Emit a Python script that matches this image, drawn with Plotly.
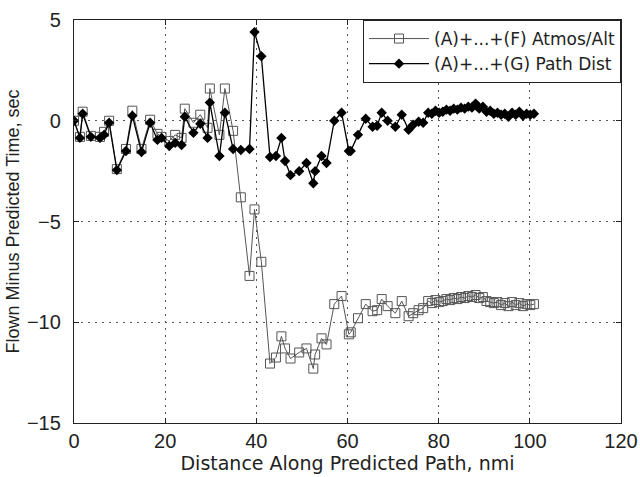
import plotly.graph_objects as go

# distance along predicted path, nmi
distance = [
    0.0, 1.3, 1.9, 3.7, 5.7, 6.6, 7.7, 9.4, 11.4, 12.8,
    14.8, 16.7, 18.3, 19.2, 20.9, 22.2, 23.6, 24.3, 26.2, 27.7,
    29.3, 29.8, 31.9, 33.1, 34.9, 36.6, 38.5, 39.6, 41.1, 43.0,
    44.3, 45.5, 46.3, 47.5, 49.4, 51.0, 52.5, 52.9, 54.3, 55.4,
    57.1, 58.7, 60.3, 60.7, 62.3, 64.0, 65.5, 66.5, 67.5, 68.8,
    70.5, 71.9, 73.4, 74.4, 75.6, 76.6, 77.7, 78.5, 79.3, 80.1,
    80.9, 81.7, 82.5, 83.3, 84.1, 84.9, 85.7, 86.5, 87.3, 88.1,
    88.9, 89.7, 90.5, 91.3, 92.1, 92.9, 93.7, 94.5, 95.3, 96.1,
    96.9, 97.7, 98.5, 99.3, 100.1, 100.9,
]

# (A)+...+(F) Atmos/Alt
atmos_alt = [
    0.0, -0.8, 0.45, -0.75, -0.8, -0.55, 0.0, -2.4, -1.4, 0.5,
    -1.4, 0.05, -0.65, -0.8, -1.0, -0.7, -0.85, 0.6, -0.1, 0.3,
    -0.35, 1.6, -0.7, 1.6, -0.5, -3.8, -7.7, -4.4, -7.0, -12.05,
    -11.75, -10.7, -11.3, -11.8, -11.5, -11.3, -12.3, -11.6, -10.8, -11.1,
    -9.1, -8.7, -10.6, -10.5, -9.8, -9.1, -9.45, -9.4, -8.85, -9.2,
    -9.55, -8.95, -9.7, -9.55, -9.4, -9.3, -8.95, -9.05, -8.9, -9.0,
    -8.95, -8.85, -8.9, -8.8, -8.85, -8.75, -8.8, -8.7, -8.75, -8.65,
    -8.8, -8.75, -8.95, -9.0, -9.05, -9.0, -9.15, -9.05, -9.2, -9.0,
    -9.15, -9.05, -9.2, -9.1, -9.15, -9.1,
]

# (A)+...+(G) Path Dist
path_dist = [
    0.0, -0.85, 0.35, -0.8, -0.85, -0.7, -0.1, -2.45, -1.5, 0.25,
    -1.55, -0.1, -0.95, -0.85, -1.25, -1.1, -1.2, 0.2, -0.6, -0.15,
    -0.85, 0.9, -1.75, 0.4, -1.4, -1.45, -1.4, 4.4, 3.2, -1.8,
    -1.75, -0.85, -2.0, -2.7, -2.5, -2.1, -3.1, -2.5, -1.75, -2.1,
    0.0, 0.4, -1.5, -1.5, -0.7, 0.1, -0.3, -0.25, 0.4, 0.0,
    -0.3, 0.3, -0.45, -0.2, -0.05, -0.1, 0.4, 0.35, 0.5, 0.4,
    0.45, 0.55, 0.5, 0.6, 0.55, 0.65, 0.6, 0.7, 0.65, 0.85,
    0.6, 0.7, 0.45, 0.5, 0.35, 0.4, 0.3, 0.35, 0.2, 0.4,
    0.3, 0.45, 0.25, 0.35, 0.3, 0.35,
]

x_ticks = [0, 20, 40, 60, 80, 100, 120]
y_ticks = [-15, -10, -5, 0, 5]

FONT = "Liberation Sans, Arial, sans-serif"
WIDE = "DejaVu Sans, sans-serif"   # reference text is stretched sideways
TEXT = "#222222"

fig = go.Figure()
fig.add_trace(go.Scatter(
    x=distance, y=atmos_alt, mode="lines+markers",
    name="(A)+...+(F) Atmos/Alt",
    line=dict(color="#555555", width=1),
    marker=dict(symbol="square-open", size=9, color="#555555",
                line=dict(width=1)),
))
fig.add_trace(go.Scatter(
    x=distance, y=path_dist, mode="lines+markers",
    name="(A)+...+(G) Path Dist",
    line=dict(color="black", width=1.3),
    marker=dict(symbol="diamond", size=8, color="black"),
))

axis_common = dict(
    showline=True, linecolor="#222222", linewidth=1.3, mirror="ticks",
    ticks="inside", ticklen=5, tickcolor="#222222",
    showgrid=True, gridcolor="#555555", griddash="2px,5px", gridwidth=1,
    zeroline=False, automargin=False,
    tickfont=dict(family=FONT, size=20, color=TEXT),
)

fig.update_xaxes(
    range=[0, 120], tickvals=x_ticks,
    title=dict(text="Distance Along Predicted Path, nmi",
               font=dict(family=WIDE, size=19, color=TEXT), standoff=0),
    **axis_common,
)
fig.update_yaxes(
    range=[-15, 5], tickvals=y_ticks, ticklabelstandoff=8,
    title=dict(text="Flown Minus Predicted Time, sec",
               font=dict(family=FONT, size=18, color=TEXT), standoff=2),
    **axis_common,
)

fig.update_layout(
    width=640, height=477,
    margin=dict(l=74, r=19, t=20, b=54),
    paper_bgcolor="white", plot_bgcolor="white",
    showlegend=True,
    legend=dict(
        x=1, y=1, xanchor="right", yanchor="top",
        bgcolor="white", bordercolor="#222222", borderwidth=1,
        font=dict(family=WIDE, size=17, color=TEXT),
        tracegroupgap=0, itemwidth=60,
    ),
)

fig.write_html(
    "out.html",
    config={"displayModeBar": False},
    post_script="document.body.style.margin='0';"
                "document.body.style.overflow='hidden';",
)
